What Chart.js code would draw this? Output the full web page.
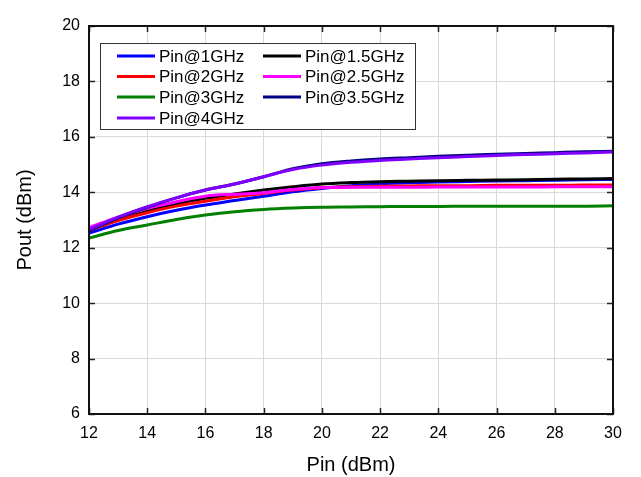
<!DOCTYPE html>
<html>
<head>
<meta charset="utf-8">
<title>Pout vs Pin</title>
<script src="https://cdn.jsdelivr.net/npm/chart.js@4/dist/chart.umd.min.js"></script>
<style>
  html, body { margin: 0; padding: 0; background: #fff; }
  #wrap { width: 641px; height: 477px; position: relative; }
</style>
</head>
<body>
<div id="wrap"><canvas id="chart" width="641" height="477"></canvas></div>
<script>
/**
 * Data.
 */
const pin = [12, 13, 14, 15, 16, 17, 18, 19, 20, 21, 22, 23, 24, 25, 26, 27, 28, 29, 30];
const xTicks = [12, 14, 16, 18, 20, 22, 24, 26, 28, 30];
const yTicks = [6, 8, 10, 12, 14, 16, 18, 20];

const seriesNames = ['Pin@1GHz', 'Pin@1.5GHz', 'Pin@2GHz', 'Pin@2.5GHz', 'Pin@3GHz', 'Pin@3.5GHz', 'Pin@4GHz'];
const seriesColors = ['#0000ff', '#000000', '#ff0000', '#ff00ff', '#008000', '#000080', '#8000ff'];

const pout1GHz = [12.52, 12.85, 13.12, 13.35, 13.54, 13.70, 13.86, 14.02, 14.14, 14.24, 14.30, 14.34, 14.37, 14.39, 14.41, 14.42, 14.43, 14.45, 14.46];
const pout15GHz = [12.62, 13.00, 13.32, 13.57, 13.78, 13.94, 14.08, 14.20, 14.30, 14.35, 14.38, 14.40, 14.42, 14.43, 14.44, 14.45, 14.47, 14.48, 14.50];
const pout2GHz = [12.64, 12.98, 13.26, 13.50, 13.68, 13.84, 13.96, 14.08, 14.16, 14.20, 14.22, 14.23, 14.24, 14.24, 14.25, 14.25, 14.25, 14.26, 14.26];
const pout25GHz = [12.73, 13.10, 13.42, 13.66, 13.86, 13.93, 13.98, 14.10, 14.17, 14.18, 14.18, 14.18, 14.19, 14.19, 14.19, 14.19, 14.20, 14.20, 14.20];
const pout3GHz = [12.35, 12.62, 12.82, 13.02, 13.18, 13.30, 13.38, 13.43, 13.46, 13.47, 13.48, 13.49, 13.49, 13.50, 13.50, 13.50, 13.50, 13.50, 13.51];
const pout35GHz = [12.62, 13.08, 13.46, 13.80, 14.08, 14.30, 14.56, 14.85, 15.03, 15.13, 15.20, 15.25, 15.30, 15.34, 15.37, 15.40, 15.43, 15.46, 15.48];
const pout4GHz = [12.65, 13.10, 13.48, 13.80, 14.08, 14.30, 14.56, 14.82, 14.98, 15.08, 15.15, 15.20, 15.25, 15.29, 15.33, 15.36, 15.39, 15.42, 15.45];

const seriesValues = [pout1GHz, pout15GHz, pout2GHz, pout25GHz, pout3GHz, pout35GHz, pout4GHz];

const FONT = 'Liberation Sans, Arial, sans-serif';

/**
 * Frame, inward ticks and legend box.
 */
const framePlugin = {
  id: 'frame',
  afterDraw(chart) {
    const { ctx, chartArea: a, scales } = chart;
    const tick = 6;
    ctx.save();
    ctx.strokeStyle = '#222';
    ctx.lineWidth = 1.5;
    xTicks.forEach((v) => {
      const px = Math.round(scales.x.getPixelForValue(v)) + 0.5;
      ctx.beginPath();
      ctx.moveTo(px, a.bottom); ctx.lineTo(px, a.bottom - tick);
      ctx.moveTo(px, a.top); ctx.lineTo(px, a.top + tick);
      ctx.stroke();
    });
    yTicks.forEach((v) => {
      const py = Math.round(scales.y.getPixelForValue(v)) + 0.5;
      ctx.beginPath();
      ctx.moveTo(a.left, py); ctx.lineTo(a.left + tick, py);
      ctx.moveTo(a.right, py); ctx.lineTo(a.right - tick, py);
      ctx.stroke();
    });
    ctx.lineWidth = 2;
    ctx.strokeStyle = '#111';
    ctx.strokeRect(a.left, a.top, a.right - a.left, a.bottom - a.top);

    // legend
    const box = { x: 100.5, y: 43.5, w: 315, h: 86 };
    ctx.fillStyle = '#fff';
    ctx.fillRect(box.x, box.y, box.w, box.h);
    ctx.lineWidth = 1;
    ctx.strokeStyle = '#333';
    ctx.strokeRect(box.x, box.y, box.w, box.h);
    ctx.font = '17px ' + FONT;
    ctx.textBaseline = 'middle';
    ctx.textAlign = 'left';
    const rowY = [56, 76.5, 97, 118];
    const colX = [117, 263];
    seriesNames.forEach((name, i) => {
      const col = i % 2;
      const row = Math.floor(i / 2);
      const lx = colX[col];
      const ly = rowY[row];
      ctx.strokeStyle = seriesColors[i];
      ctx.lineWidth = 3;
      ctx.beginPath();
      ctx.moveTo(lx, ly); ctx.lineTo(lx + 38, ly);
      ctx.stroke();
      ctx.fillStyle = '#000';
      ctx.fillText(name, lx + 42, ly + 1);
    });
    ctx.restore();
  },
};

const datasets = seriesNames.map((name, i) => ({
  label: name,
  data: seriesValues[i],
  borderColor: seriesColors[i],
  backgroundColor: seriesColors[i],
  borderWidth: 3,
  pointRadius: 0,
  cubicInterpolationMode: 'monotone',
  order: seriesNames.length - i,
}));

new Chart(document.getElementById('chart'), {
  type: 'line',
  data: { labels: pin, datasets },
  plugins: [framePlugin],
  options: {
    responsive: false,
    animation: false,
    layout: { padding: { left: 0, right: 28, top: 26, bottom: 0 } },
    plugins: { legend: { display: false }, tooltip: { enabled: false } },
    scales: {
      x: {
        type: 'linear',
        min: 12,
        max: 30,
        afterFit: (s) => { s.height = 63; },
        afterBuildTicks: (s) => { s.ticks = xTicks.map((v) => ({ value: v })); },
        grid: { color: '#d9d9d9', lineWidth: 1, drawTicks: false },
        border: { display: false },
        ticks: { padding: 10, color: '#000', font: { family: FONT, size: 16 } },
        title: { display: true, text: 'Pin (dBm)', color: '#000', padding: { top: 2, bottom: 0 }, font: { family: FONT, size: 20 } },
      },
      y: {
        min: 6,
        max: 20,
        afterFit: (s) => { s.width = 89; },
        afterBuildTicks: (s) => { s.ticks = yTicks.map((v) => ({ value: v })); },
        grid: { color: '#d9d9d9', lineWidth: 1, drawTicks: false },
        border: { display: false },
        ticks: { padding: 9, color: '#000', font: { family: FONT, size: 16 } },
        title: { display: true, text: 'Pout (dBm)', color: '#000', padding: { top: 13, bottom: 0 }, font: { family: FONT, size: 20 } },
      },
    },
  },
});
</script>
</body>
</html>
